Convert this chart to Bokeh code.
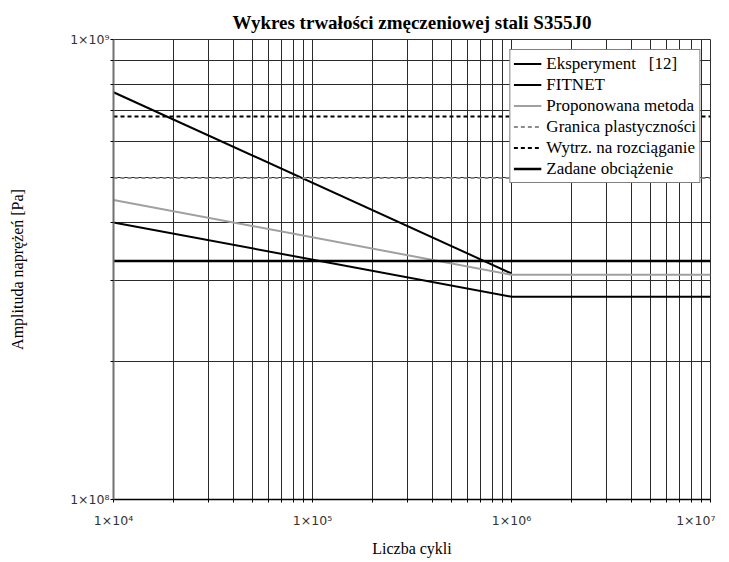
from bokeh.plotting import figure
from bokeh.models import (FixedTicker, CustomJSTickFormatter, Legend, LegendItem, Title)
from bokeh.core.properties import value
from bokeh.embed import file_html
from bokeh.resources import INLINE

# ---- data ----
exp_cycles = [1e4, 1e6]
exp_stress = [7.68e8, 3.10e8]

fitnet_cycles = [1e4, 1e6, 1e7]
fitnet_stress = [4.00e8, 2.76e8, 2.76e8]

prop_cycles = [1e4, 1e6, 1e7]
prop_stress = [4.48e8, 3.08e8, 3.08e8]

yield_cycles = [1e4, 1e7]
yield_stress = [5.0e8, 5.0e8]

uts_cycles = [1e4, 1e7]
uts_stress = [6.8e8, 6.8e8]

load_cycles = [1e4, 1e7]
load_stress = [3.3e8, 3.3e8]

labels = ["Eksperyment   [12]", "FITNET", "Proponowana metoda",
          "Granica plastyczności", "Wytrz. na rozciąganie", "Zadane obciążenie"]

x_decades = [4, 5, 6, 7]
y_decades = [8, 9]

x_major = [10.0 ** e for e in x_decades]
x_minor = [k * 10.0 ** e for e in x_decades[:-1] for k in range(2, 10)]
y_major = [10.0 ** e for e in y_decades]
y_minor = [k * 10.0 ** e for e in y_decades[:-1] for k in range(2, 10)]

SERIF = "Liberation Serif"

p = figure(x_axis_type="log", y_axis_type="log",
           x_range=(1e4, 1e7), y_range=(1e8, 1e9),
           frame_width=597, frame_height=460,
           min_border_left=113, min_border_right=5,
           min_border_top=39, min_border_bottom=55,
           output_backend="svg", toolbar_location=None,
           background_fill_color="white", border_fill_color="white")

p.title = Title(text="Wykres trwałości zmęczeniowej stali S355J0", align="center",
                text_font=SERIF, text_font_size="19px", text_font_style="bold",
                text_color="black", standoff=14)

fmt = CustomJSTickFormatter(code="""
const sup = {'0':'\u2070','1':'\u00b9','2':'\u00b2','3':'\u00b3','4':'\u2074','5':'\u2075','6':'\u2076','7':'\u2077','8':'\u2078','9':'\u2079','-':'\u207b'};
const e = Math.round(Math.log10(tick));
return '1\u00d710' + String(e).split('').map(c => sup[c]).join('');
""")

for ax, maj, mino in ((p.xaxis[0], x_major, x_minor), (p.yaxis[0], y_major, y_minor)):
    ax.ticker = FixedTicker(ticks=maj, minor_ticks=mino)
    ax.formatter = fmt
    ax.major_label_text_font = "DejaVu Sans"
    ax.major_label_text_font_size = "12.5px"
    ax.major_label_text_color = "#333333"
    ax.axis_label_text_font = SERIF
    ax.axis_label_text_font_size = "16px"
    ax.axis_label_text_font_style = "normal"
    ax.axis_label_text_color = "black"
    ax.major_tick_in = 0
    ax.major_tick_out = 3
    ax.minor_tick_in = 0
    ax.minor_tick_out = 3
    ax.major_tick_line_color = "black"
    ax.minor_tick_line_color = "black"

p.xaxis.axis_label = "Liczba cykli"
p.yaxis.axis_label = "Amplituda naprężeń [Pa]"
p.xaxis.major_label_standoff = 10
p.xaxis.axis_label_standoff = 9
p.yaxis.major_label_standoff = 1
p.yaxis.axis_label_standoff = 41
p.yaxis.axis_line_color = "#707070"
p.yaxis.axis_line_width = 2
p.xaxis.axis_line_color = "black"
p.xaxis.axis_line_width = 1.5

for g in (p.xgrid[0], p.ygrid[0]):
    g.grid_line_color = "#2a2a2a"
    g.grid_line_width = 1
    g.minor_grid_line_color = "#2a2a2a"
    g.minor_grid_line_width = 1

p.outline_line_color = "#333333"
p.outline_line_width = 1

r_exp = p.line(exp_cycles, exp_stress, line_color="black", line_width=2)
r_fit = p.line(fitnet_cycles, fitnet_stress, line_color="black", line_width=2)
r_prop = p.line(prop_cycles, prop_stress, line_color="#a0a0a0", line_width=2)
r_yield = p.line(yield_cycles, yield_stress, line_color="#8c8c8c", line_width=2, line_dash="4 3")
r_uts = p.line(uts_cycles, uts_stress, line_color="black", line_width=2, line_dash="4 3")
r_load = p.line(load_cycles, load_stress, line_color="black", line_width=2.5)

renderers = [r_exp, r_fit, r_prop, r_yield, r_uts, r_load]
legend = Legend(items=[LegendItem(label=value(l), renderers=[r]) for l, r in zip(labels, renderers)],
                location="top_right", margin=10, padding=3, spacing=0,
                label_height=21, glyph_height=21, glyph_width=28, label_standoff=5,
                border_line_color="black", border_line_width=1,
                background_fill_color="white", background_fill_alpha=1)
legend.label_text_font = SERIF
legend.label_text_font_size = "17px"
legend.label_text_color = "black"
p.add_layout(legend)

open("out.html", "w").write(file_html(p, INLINE))
